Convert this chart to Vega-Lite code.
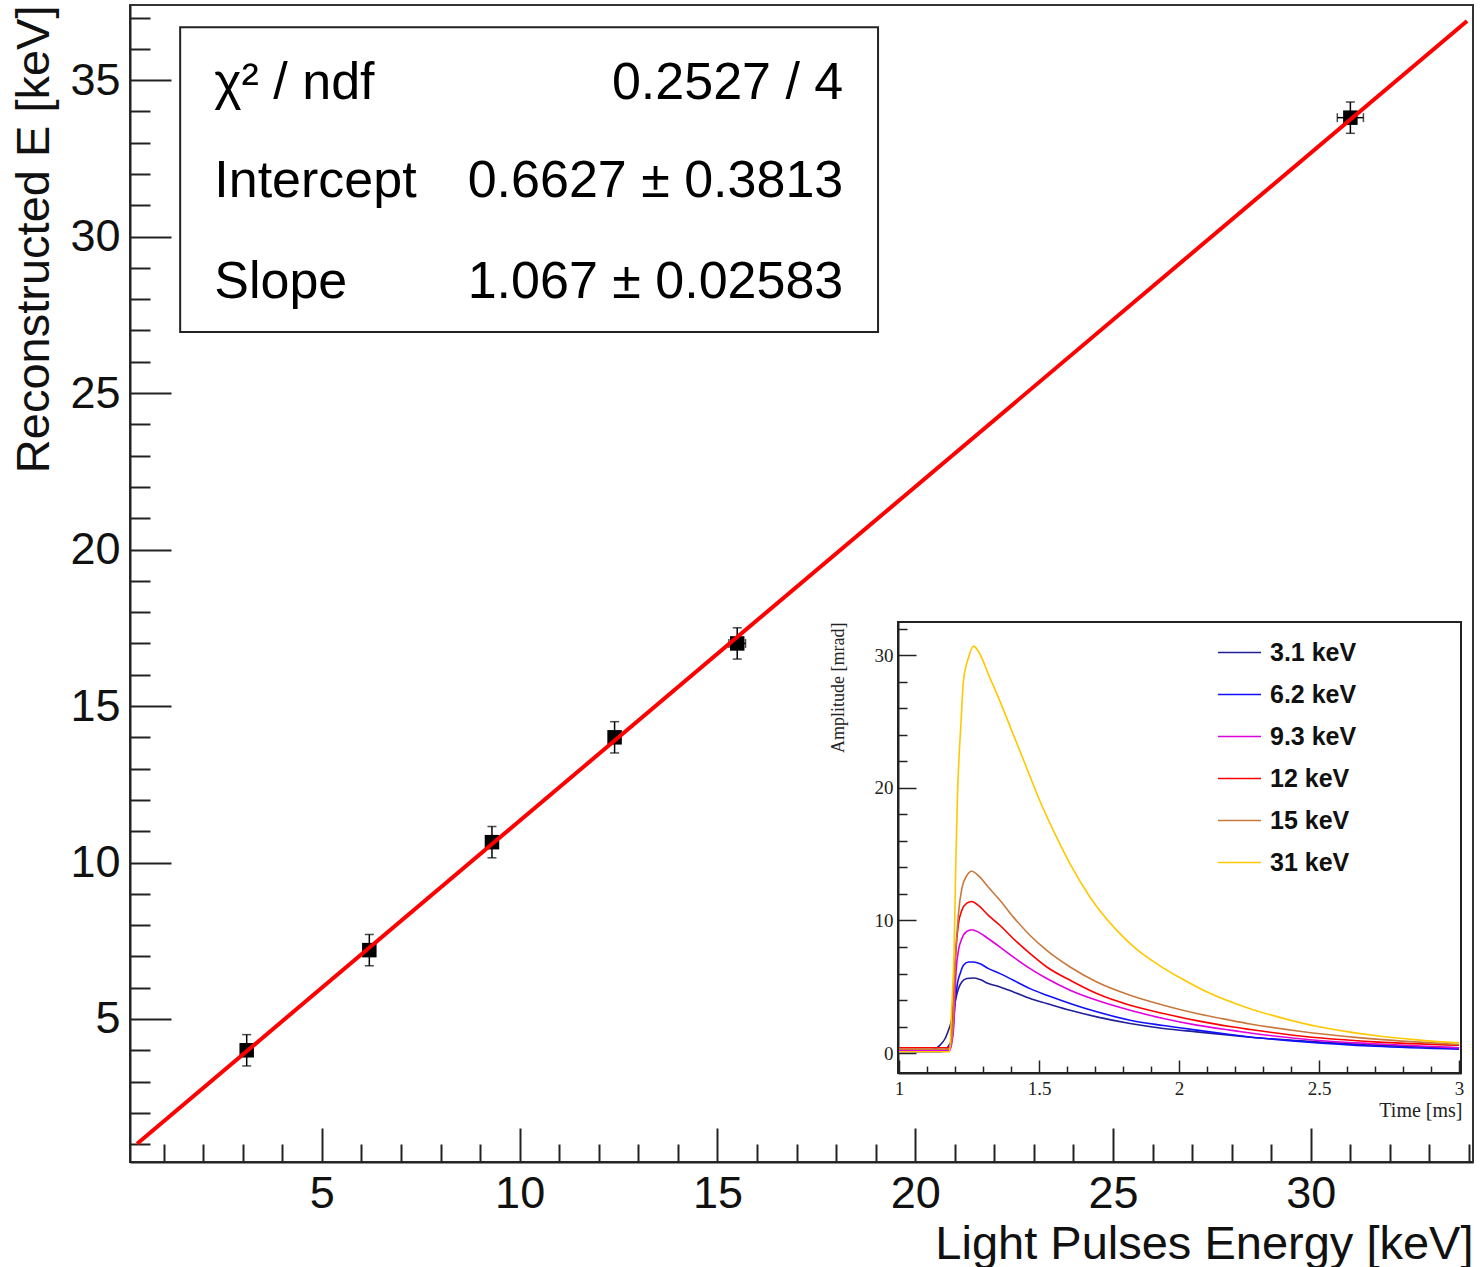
{
  "$schema": "https://vega.github.io/schema/vega-lite/v6.json",
  "width": 1343,
  "height": 1157,
  "autosize": "none",
  "padding": {"left": 130, "top": 5, "right": 7, "bottom": 105},
  "background": "white",
  "config": {
    "view": {"stroke": "#333", "strokeWidth": 2},
    "axis": {"grid": false, "labelFont": "Liberation Sans", "titleFont": "Liberation Sans", "labelOverlap": false, "labelFlush": false},
    "font": "Liberation Sans"
  },
  "datasets": {
    "points": [
      {"x": 3.1, "y": 4.0, "xlo": 3.05, "xhi": 3.15, "ylo": 3.5, "yhi": 4.5},
      {"x": 6.2, "y": 7.2, "xlo": 6.13, "xhi": 6.27, "ylo": 6.7, "yhi": 7.7},
      {"x": 9.3, "y": 10.65, "xlo": 9.2, "xhi": 9.4, "ylo": 10.15, "yhi": 11.15},
      {"x": 12.4, "y": 14.0, "xlo": 12.26, "xhi": 12.54, "ylo": 13.5, "yhi": 14.5},
      {"x": 15.5, "y": 17.0, "xlo": 15.29, "xhi": 15.71, "ylo": 16.5, "yhi": 17.5},
      {"x": 31.0, "y": 33.8, "xlo": 30.67, "xhi": 31.33, "ylo": 33.3, "yhi": 34.3}
    ],
    "fit": [
      {"x": 0.33, "y": 1.015},
      {"x": 33.95, "y": 36.89}
    ],
    "stats": [
      {"k": 0, "name": "χ² / ndf", "value": "0.2527 / 4"},
      {"k": 1, "name": "Intercept", "value": "0.6627 ± 0.3813"},
      {"k": 2, "name": "Slope", "value": "1.067 ± 0.02583"}
    ],
    "pulses": [
      {"t": 1.0, "a": 0.2, "e": "3.1 keV"}, {"t": 1.1107, "a": 0.23, "e": "3.1 keV"}, {"t": 1.1464, "a": 0.6, "e": "3.1 keV"}, {"t": 1.1643, "a": 1.1, "e": "3.1 keV"}, {"t": 1.1762, "a": 1.73, "e": "3.1 keV"}, {"t": 1.1845, "a": 2.23, "e": "3.1 keV"}, {"t": 1.194, "a": 3.23, "e": "3.1 keV"}, {"t": 1.2036, "a": 4.23, "e": "3.1 keV"}, {"t": 1.2119, "a": 4.86, "e": "3.1 keV"}, {"t": 1.2238, "a": 5.36, "e": "3.1 keV"}, {"t": 1.2417, "a": 5.62, "e": "3.1 keV"}, {"t": 1.2655, "a": 5.66, "e": "3.1 keV"}, {"t": 1.2893, "a": 5.54, "e": "3.1 keV"}, {"t": 1.319, "a": 5.24, "e": "3.1 keV"}, {"t": 1.3607, "a": 4.99, "e": "3.1 keV"}, {"t": 1.4083, "a": 4.61, "e": "3.1 keV"}, {"t": 1.4679, "a": 4.11, "e": "3.1 keV"}, {"t": 1.5274, "a": 3.74, "e": "3.1 keV"}, {"t": 1.6107, "a": 3.23, "e": "3.1 keV"}, {"t": 1.706, "a": 2.73, "e": "3.1 keV"}, {"t": 1.825, "a": 2.23, "e": "3.1 keV"}, {"t": 1.944, "a": 1.86, "e": "3.1 keV"}, {"t": 2.0631, "a": 1.6, "e": "3.1 keV"}, {"t": 2.1821, "a": 1.35, "e": "3.1 keV"}, {"t": 2.2536, "a": 1.2, "e": "3.1 keV"}, {"t": 2.45, "a": 0.9, "e": "3.1 keV"}, {"t": 2.7, "a": 0.6, "e": "3.1 keV"}, {"t": 3.0, "a": 0.4, "e": "3.1 keV"},
      {"t": 1.0, "a": 0.1, "e": "6.2 keV"}, {"t": 1.15, "a": 0.1, "e": "6.2 keV"}, {"t": 1.1881, "a": 0.98, "e": "6.2 keV"}, {"t": 1.2, "a": 3.74, "e": "6.2 keV"}, {"t": 1.2083, "a": 5.24, "e": "6.2 keV"}, {"t": 1.2179, "a": 5.99, "e": "6.2 keV"}, {"t": 1.2298, "a": 6.62, "e": "6.2 keV"}, {"t": 1.2476, "a": 6.87, "e": "6.2 keV"}, {"t": 1.2655, "a": 6.87, "e": "6.2 keV"}, {"t": 1.2893, "a": 6.74, "e": "6.2 keV"}, {"t": 1.319, "a": 6.37, "e": "6.2 keV"}, {"t": 1.3607, "a": 5.99, "e": "6.2 keV"}, {"t": 1.4083, "a": 5.49, "e": "6.2 keV"}, {"t": 1.4679, "a": 4.86, "e": "6.2 keV"}, {"t": 1.5274, "a": 4.36, "e": "6.2 keV"}, {"t": 1.6107, "a": 3.74, "e": "6.2 keV"}, {"t": 1.706, "a": 3.11, "e": "6.2 keV"}, {"t": 1.825, "a": 2.48, "e": "6.2 keV"}, {"t": 1.944, "a": 2.08, "e": "6.2 keV"}, {"t": 2.0631, "a": 1.73, "e": "6.2 keV"}, {"t": 2.1821, "a": 1.4, "e": "6.2 keV"}, {"t": 2.2536, "a": 1.22, "e": "6.2 keV"}, {"t": 2.45, "a": 0.85, "e": "6.2 keV"}, {"t": 2.7, "a": 0.52, "e": "6.2 keV"}, {"t": 3.0, "a": 0.3, "e": "6.2 keV"},
      {"t": 1.0, "a": 0.2, "e": "9.3 keV"}, {"t": 1.18, "a": 0.2, "e": "9.3 keV"}, {"t": 1.194, "a": 1.73, "e": "9.3 keV"}, {"t": 1.2036, "a": 6.24, "e": "9.3 keV"}, {"t": 1.2119, "a": 7.74, "e": "9.3 keV"}, {"t": 1.2238, "a": 8.62, "e": "9.3 keV"}, {"t": 1.2417, "a": 9.17, "e": "9.3 keV"}, {"t": 1.2595, "a": 9.3, "e": "9.3 keV"}, {"t": 1.2833, "a": 9.12, "e": "9.3 keV"}, {"t": 1.319, "a": 8.62, "e": "9.3 keV"}, {"t": 1.3607, "a": 7.99, "e": "9.3 keV"}, {"t": 1.4083, "a": 7.24, "e": "9.3 keV"}, {"t": 1.4679, "a": 6.37, "e": "9.3 keV"}, {"t": 1.5274, "a": 5.62, "e": "9.3 keV"}, {"t": 1.6107, "a": 4.74, "e": "9.3 keV"}, {"t": 1.706, "a": 3.98, "e": "9.3 keV"}, {"t": 1.825, "a": 3.23, "e": "9.3 keV"}, {"t": 1.944, "a": 2.61, "e": "9.3 keV"}, {"t": 2.0631, "a": 2.11, "e": "9.3 keV"}, {"t": 2.1821, "a": 1.73, "e": "9.3 keV"}, {"t": 2.2536, "a": 1.52, "e": "9.3 keV"}, {"t": 2.45, "a": 1.05, "e": "9.3 keV"}, {"t": 2.7, "a": 0.7, "e": "9.3 keV"}, {"t": 3.0, "a": 0.4, "e": "9.3 keV"},
      {"t": 1.0, "a": 0.4, "e": "12 keV"}, {"t": 1.18, "a": 0.4, "e": "12 keV"}, {"t": 1.194, "a": 4.23, "e": "12 keV"}, {"t": 1.2036, "a": 7.99, "e": "12 keV"}, {"t": 1.2119, "a": 9.75, "e": "12 keV"}, {"t": 1.2238, "a": 10.75, "e": "12 keV"}, {"t": 1.2417, "a": 11.3, "e": "12 keV"}, {"t": 1.2595, "a": 11.43, "e": "12 keV"}, {"t": 1.2833, "a": 11.13, "e": "12 keV"}, {"t": 1.319, "a": 10.38, "e": "12 keV"}, {"t": 1.3607, "a": 9.62, "e": "12 keV"}, {"t": 1.4083, "a": 8.62, "e": "12 keV"}, {"t": 1.4679, "a": 7.5, "e": "12 keV"}, {"t": 1.5274, "a": 6.49, "e": "12 keV"}, {"t": 1.6107, "a": 5.49, "e": "12 keV"}, {"t": 1.706, "a": 4.49, "e": "12 keV"}, {"t": 1.825, "a": 3.61, "e": "12 keV"}, {"t": 1.944, "a": 2.98, "e": "12 keV"}, {"t": 2.0631, "a": 2.45, "e": "12 keV"}, {"t": 2.1821, "a": 2.0, "e": "12 keV"}, {"t": 2.2536, "a": 1.78, "e": "12 keV"}, {"t": 2.45, "a": 1.25, "e": "12 keV"}, {"t": 2.7, "a": 0.85, "e": "12 keV"}, {"t": 3.0, "a": 0.6, "e": "12 keV"},
      {"t": 1.0, "a": 0.3, "e": "15 keV"}, {"t": 1.18, "a": 0.3, "e": "15 keV"}, {"t": 1.1917, "a": 1.73, "e": "15 keV"}, {"t": 1.2, "a": 6.74, "e": "15 keV"}, {"t": 1.2119, "a": 10.5, "e": "15 keV"}, {"t": 1.2238, "a": 12.38, "e": "15 keV"}, {"t": 1.2417, "a": 13.38, "e": "15 keV"}, {"t": 1.2595, "a": 13.71, "e": "15 keV"}, {"t": 1.2833, "a": 13.38, "e": "15 keV"}, {"t": 1.319, "a": 12.5, "e": "15 keV"}, {"t": 1.3607, "a": 11.5, "e": "15 keV"}, {"t": 1.4083, "a": 10.25, "e": "15 keV"}, {"t": 1.4679, "a": 8.87, "e": "15 keV"}, {"t": 1.5274, "a": 7.74, "e": "15 keV"}, {"t": 1.6107, "a": 6.49, "e": "15 keV"}, {"t": 1.706, "a": 5.36, "e": "15 keV"}, {"t": 1.825, "a": 4.36, "e": "15 keV"}, {"t": 1.944, "a": 3.61, "e": "15 keV"}, {"t": 2.0631, "a": 2.98, "e": "15 keV"}, {"t": 2.1821, "a": 2.48, "e": "15 keV"}, {"t": 2.2536, "a": 2.2, "e": "15 keV"}, {"t": 2.43, "a": 1.65, "e": "15 keV"}, {"t": 2.65, "a": 1.15, "e": "15 keV"}, {"t": 3.0, "a": 0.65, "e": "15 keV"},
      {"t": 1.0, "a": 0.1, "e": "31 keV"}, {"t": 1.18, "a": 0.1, "e": "31 keV"}, {"t": 1.1881, "a": 3.48, "e": "31 keV"}, {"t": 1.1964, "a": 7.74, "e": "31 keV"}, {"t": 1.2024, "a": 14.26, "e": "31 keV"}, {"t": 1.2083, "a": 19.27, "e": "31 keV"}, {"t": 1.2214, "a": 25.04, "e": "31 keV"}, {"t": 1.2298, "a": 28.05, "e": "31 keV"}, {"t": 1.2476, "a": 29.8, "e": "31 keV"}, {"t": 1.2655, "a": 30.68, "e": "31 keV"}, {"t": 1.2893, "a": 30.05, "e": "31 keV"}, {"t": 1.319, "a": 28.55, "e": "31 keV"}, {"t": 1.3548, "a": 26.8, "e": "31 keV"}, {"t": 1.4024, "a": 24.3, "e": "31 keV"}, {"t": 1.45, "a": 21.8, "e": "31 keV"}, {"t": 1.4976, "a": 19.27, "e": "31 keV"}, {"t": 1.5512, "a": 16.77, "e": "31 keV"}, {"t": 1.6107, "a": 14.26, "e": "31 keV"}, {"t": 1.6821, "a": 11.75, "e": "31 keV"}, {"t": 1.7774, "a": 9.25, "e": "31 keV"}, {"t": 1.85, "a": 7.8, "e": "31 keV"}, {"t": 1.93, "a": 6.6, "e": "31 keV"}, {"t": 2.01, "a": 5.6, "e": "31 keV"}, {"t": 2.1, "a": 4.6, "e": "31 keV"}, {"t": 2.2536, "a": 3.35, "e": "31 keV"}, {"t": 2.35, "a": 2.75, "e": "31 keV"}, {"t": 2.5, "a": 1.98, "e": "31 keV"}, {"t": 2.6, "a": 1.62, "e": "31 keV"}, {"t": 2.7, "a": 1.33, "e": "31 keV"}, {"t": 2.85, "a": 1.0, "e": "31 keV"}, {"t": 3.0, "a": 0.77, "e": "31 keV"}
    ]
  },
  "layer": [
    {
      "layer": [
        {
          "data": {"name": "fit"},
          "mark": {"type": "point", "opacity": 0},
          "encoding": {
            "x": {"field": "x", "type": "quantitative", "scale": {"domain": [0.15, 34.1], "nice": false, "zero": false},
              "axis": {"orient": "bottom", "values": [5, 10, 15, 20, 25, 30], "tickSize": -34, "tickWidth": 2, "tickColor": "#222", "domainColor": "#222", "domainWidth": 2, "labelFontSize": 45, "labelPadding": 43, "labelColor": "#111", "title": "Light Pulses Energy [keV]", "titleFontSize": 47, "titleFontWeight": "normal", "titleColor": "#111", "titleAlign": "right", "titleX": 1343, "titleY": 96, "titleBaseline": "alphabetic"}},
            "y": {"field": "y", "type": "quantitative", "scale": {"domain": [0.43, 37.4], "nice": false, "zero": false},
              "axis": {"orient": "left", "values": [5, 10, 15, 20, 25, 30, 35], "tickSize": -41, "tickWidth": 2, "tickColor": "#222", "domainColor": "#222", "domainWidth": 2, "labelFontSize": 45, "labelPadding": 51, "labelColor": "#111", "title": "Reconstructed E [keV]", "titleFontSize": 47, "titleFontWeight": "normal", "titleColor": "#111", "titleAngle": 270, "titleAlign": "right", "titleX": -82, "titleY": 0, "titleBaseline": "alphabetic"}}
          }
        },
        {
          "data": {"name": "fit"},
          "mark": {"type": "point", "opacity": 0},
          "encoding": {
            "x": {"field": "x", "type": "quantitative",
              "axis": {"orient": "bottom", "values": [1, 2, 3, 4, 6, 7, 8, 9, 11, 12, 13, 14, 16, 17, 18, 19, 21, 22, 23, 24, 26, 27, 28, 29, 31, 32, 33, 34], "tickSize": -18, "tickWidth": 2, "tickColor": "#222", "domain": false, "labels": false, "title": null}},
            "y": {"field": "y", "type": "quantitative",
              "axis": {"orient": "left", "values": [1, 2, 3, 4, 6, 7, 8, 9, 11, 12, 13, 14, 16, 17, 18, 19, 21, 22, 23, 24, 26, 27, 28, 29, 31, 32, 33, 34, 36, 37], "tickSize": -20, "tickWidth": 2, "tickColor": "#222", "domain": false, "labels": false, "title": null}}
          }
        },
        {
          "data": {"name": "stats"},
          "transform": [{"filter": "datum.k == 0"}],
          "mark": {"type": "rect", "fill": "transparent", "stroke": "#222", "strokeWidth": 2},
          "encoding": {
            "x": {"datum": 1.418, "type": "quantitative", "axis": null},
            "x2": {"datum": 19.06},
            "y": {"datum": 36.69, "type": "quantitative", "axis": null},
            "y2": {"datum": 26.95}
          }
        },
        {
          "data": {"name": "stats"},
          "transform": [{"filter": "datum.k == 0"}],
          "mark": {"type": "text", "align": "left", "baseline": "alphabetic", "fontSize": 52, "color": "#000"},
          "encoding": {"x": {"datum": 2.28, "type": "quantitative", "axis": null}, "y": {"datum": 34.39, "type": "quantitative", "axis": null}, "text": {"field": "name"}}
        },
        {
          "data": {"name": "stats"},
          "transform": [{"filter": "datum.k == 1"}],
          "mark": {"type": "text", "align": "left", "baseline": "alphabetic", "fontSize": 52, "color": "#000"},
          "encoding": {"x": {"datum": 2.28, "type": "quantitative", "axis": null}, "y": {"datum": 31.26, "type": "quantitative", "axis": null}, "text": {"field": "name"}}
        },
        {
          "data": {"name": "stats"},
          "transform": [{"filter": "datum.k == 2"}],
          "mark": {"type": "text", "align": "left", "baseline": "alphabetic", "fontSize": 52, "color": "#000"},
          "encoding": {"x": {"datum": 2.28, "type": "quantitative", "axis": null}, "y": {"datum": 28.04, "type": "quantitative", "axis": null}, "text": {"field": "name"}}
        },
        {
          "data": {"name": "stats"},
          "transform": [{"filter": "datum.k == 0"}],
          "mark": {"type": "text", "align": "right", "baseline": "alphabetic", "fontSize": 52, "color": "#000"},
          "encoding": {"x": {"datum": 18.18, "type": "quantitative", "axis": null}, "y": {"datum": 34.39, "type": "quantitative", "axis": null}, "text": {"field": "value"}}
        },
        {
          "data": {"name": "stats"},
          "transform": [{"filter": "datum.k == 1"}],
          "mark": {"type": "text", "align": "right", "baseline": "alphabetic", "fontSize": 52, "color": "#000"},
          "encoding": {"x": {"datum": 18.18, "type": "quantitative", "axis": null}, "y": {"datum": 31.26, "type": "quantitative", "axis": null}, "text": {"field": "value"}}
        },
        {
          "data": {"name": "stats"},
          "transform": [{"filter": "datum.k == 2"}],
          "mark": {"type": "text", "align": "right", "baseline": "alphabetic", "fontSize": 52, "color": "#000"},
          "encoding": {"x": {"datum": 18.18, "type": "quantitative", "axis": null}, "y": {"datum": 28.04, "type": "quantitative", "axis": null}, "text": {"field": "value"}}
        },
        {
          "data": {"name": "points"},
          "mark": {"type": "rule", "color": "#000", "strokeWidth": 1.5},
          "encoding": {"x": {"field": "x", "type": "quantitative", "axis": null}, "y": {"field": "ylo", "type": "quantitative", "axis": null}, "y2": {"field": "yhi"}}
        },
        {
          "data": {"name": "points"},
          "mark": {"type": "tick", "orient": "horizontal", "size": 9, "thickness": 1.5, "color": "#000"},
          "encoding": {"x": {"field": "x", "type": "quantitative", "axis": null}, "y": {"field": "ylo", "type": "quantitative", "axis": null}}
        },
        {
          "data": {"name": "points"},
          "mark": {"type": "tick", "orient": "horizontal", "size": 9, "thickness": 1.5, "color": "#000"},
          "encoding": {"x": {"field": "x", "type": "quantitative", "axis": null}, "y": {"field": "yhi", "type": "quantitative", "axis": null}}
        },
        {
          "data": {"name": "points"},
          "mark": {"type": "rule", "color": "#000", "strokeWidth": 1.5},
          "encoding": {"y": {"field": "y", "type": "quantitative", "axis": null}, "x": {"field": "xlo", "type": "quantitative", "axis": null}, "x2": {"field": "xhi"}}
        },
        {
          "data": {"name": "points"},
          "mark": {"type": "tick", "orient": "vertical", "size": 9, "thickness": 1.5, "color": "#000"},
          "encoding": {"x": {"field": "xlo", "type": "quantitative", "axis": null}, "y": {"field": "y", "type": "quantitative", "axis": null}}
        },
        {
          "data": {"name": "points"},
          "mark": {"type": "tick", "orient": "vertical", "size": 9, "thickness": 1.5, "color": "#000"},
          "encoding": {"x": {"field": "xhi", "type": "quantitative", "axis": null}, "y": {"field": "y", "type": "quantitative", "axis": null}}
        },
        {
          "data": {"name": "points"},
          "mark": {"type": "point", "shape": "square", "filled": true, "size": 210, "color": "#000", "opacity": 1},
          "encoding": {"x": {"field": "x", "type": "quantitative", "axis": null}, "y": {"field": "y", "type": "quantitative", "axis": null}}
        },
        {
          "data": {"name": "fit"},
          "mark": {"type": "line", "color": "#ff0000", "strokeWidth": 4},
          "encoding": {"x": {"field": "x", "type": "quantitative", "axis": null}, "y": {"field": "y", "type": "quantitative", "axis": null}}
        }
      ],
      "resolve": {"axis": {"x": "independent", "y": "independent"}}
    },
    {
      "layer": [
        {
          "data": {"name": "pulses"},
          "mark": {"type": "line", "strokeWidth": 1.6, "interpolate": "monotone"},
          "encoding": {
            "x": {"field": "t", "type": "quantitative", "scale": {"domain": [0.996, 3.007], "range": [768, 1331], "nice": false, "zero": false},
              "axis": {"orient": "bottom", "offset": -89, "values": [1, 1.5, 2, 2.5, 3], "format": "~g", "tickSize": -13, "tickWidth": 1.5, "tickColor": "#222", "domainColor": "#222", "domainWidth": 2, "labelFont": "Liberation Serif", "labelFontSize": 19, "labelPadding": 19, "labelColor": "#222", "title": "Time [ms]", "titleFont": "Liberation Serif", "titleFontSize": 20, "titleFontWeight": "normal", "titleColor": "#222", "titleAlign": "right", "titleX": 1332, "titleY": 43, "titleBaseline": "alphabetic"}},
            "y": {"field": "a", "type": "quantitative", "scale": {"domain": [-1.5, 32.5], "range": [1068, 617], "nice": false, "zero": false},
              "axis": {"orient": "left", "offset": -768, "values": [0, 10, 20, 30], "tickSize": -18, "tickWidth": 1.5, "tickColor": "#222", "domainColor": "#222", "domainWidth": 2, "labelFont": "Liberation Serif", "labelFontSize": 19, "labelPadding": 23, "labelColor": "#222", "title": "Amplitude [mrad]", "titleFont": "Liberation Serif", "titleFontSize": 18, "titleFontWeight": "normal", "titleColor": "#222", "titleAngle": 270, "titleAlign": "right", "titleX": -55, "titleY": 617, "titleBaseline": "alphabetic"}},
            "color": {"field": "e", "type": "nominal",
              "scale": {"domain": ["3.1 keV", "6.2 keV", "9.3 keV", "12 keV", "15 keV", "31 keV"], "range": ["#1f1f99", "#1010ff", "#e000e0", "#ff0000", "#c8783c", "#ffc800"]},
              "legend": {"orient": "none", "legendX": 1087, "legendY": 625, "title": null, "symbolType": "stroke", "symbolSize": 1849, "symbolStrokeWidth": 1.6, "labelFont": "Liberation Sans", "labelFontWeight": "bold", "labelFontSize": 25, "labelColor": "#111", "labelOffset": 8, "rowPadding": 6, "padding": 0}}
          }
        },
        {
          "data": {"name": "pulses"},
          "mark": {"type": "point", "opacity": 0},
          "encoding": {
            "x": {"field": "t", "type": "quantitative",
              "axis": {"orient": "bottom", "offset": -89, "values": [1.1, 1.2, 1.3, 1.4, 1.6, 1.7, 1.8, 1.9, 2.1, 2.2, 2.3, 2.4, 2.6, 2.7, 2.8, 2.9], "tickSize": -7, "tickWidth": 1.5, "tickColor": "#222", "domain": false, "labels": false, "title": null}},
            "y": {"field": "a", "type": "quantitative",
              "axis": {"orient": "left", "offset": -768, "values": [2, 4, 6, 8, 12, 14, 16, 18, 22, 24, 26, 28, 32], "tickSize": -9, "tickWidth": 1.5, "tickColor": "#222", "domain": false, "labels": false, "title": null}}
          }
        },
        {
          "data": {"name": "stats"},
          "transform": [{"filter": "datum.k == 0"}],
          "mark": {"type": "rect", "fill": "transparent", "stroke": "#222", "strokeWidth": 2},
          "encoding": {
            "x": {"datum": 0.996, "type": "quantitative", "axis": null},
            "x2": {"datum": 3.007},
            "y": {"datum": -1.5, "type": "quantitative", "axis": null},
            "y2": {"datum": 32.5}
          }
        }
      ],
      "resolve": {"axis": {"x": "independent", "y": "independent"}}
    }
  ],
  "resolve": {"scale": {"x": "independent", "y": "independent"}}
}
